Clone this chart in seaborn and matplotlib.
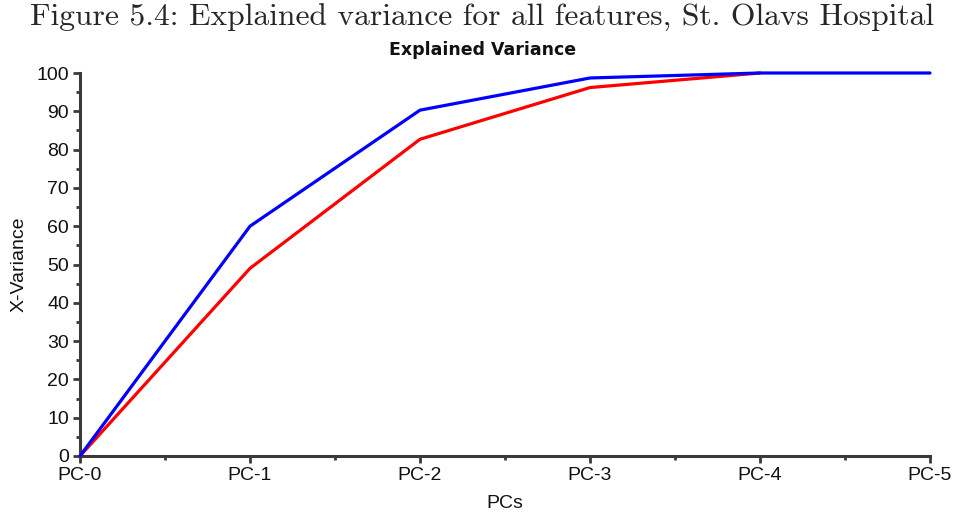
import matplotlib
matplotlib.use("Agg")
import matplotlib.pyplot as plt
import seaborn as sns
import pandas as pd
import numpy as np
from matplotlib.ticker import MultipleLocator

pcs = ["PC-0", "PC-1", "PC-2", "PC-3", "PC-4", "PC-5"]
blue_vals = [0, 60.0, 90.3, 98.7, 100, 100]
red_vals = [0, 49.0, 82.7, 96.2, 100]

rows = []
for i, v in enumerate(red_vals):
    rows.append({"pc": i, "var": v, "series": "red"})
for i, v in enumerate(blue_vals):
    rows.append({"pc": i, "var": v, "series": "blue"})
df = pd.DataFrame(rows)

sns.set_style("white")
plt.rcParams['font.family'] = ['Liberation Sans', 'DejaVu Sans']

fig = plt.figure(figsize=(9.54, 5.12), dpi=100)
ax = fig.add_axes([80/954, 1-456/512, 850/954, 383/512])

sns.lineplot(data=df, x="pc", y="var", hue="series", palette={"red": "#ff0000", "blue": "#0000ff"},
             hue_order=["red", "blue"], linewidth=2.3, legend=False, ax=ax, clip_on=False)

ax.set_xlim(0, 5)
ax.set_ylim(0, 100)
ax.set_xticks(range(len(pcs)))
ax.set_xticklabels(pcs)
ax.xaxis.set_minor_locator(MultipleLocator(0.5))
ax.yaxis.set_major_locator(MultipleLocator(10))
ax.yaxis.set_minor_locator(MultipleLocator(5))

for s in ["top", "right"]:
    ax.spines[s].set_visible(False)
for s in ["left", "bottom"]:
    ax.spines[s].set_color("#3a3a3a")
    ax.spines[s].set_linewidth(2.2)
    ax.spines[s].set_zorder(1)

ax.tick_params(axis="both", which="major", direction="out", length=5, width=2, color="#3a3a3a",
               labelsize=14, labelcolor="#111111", bottom=True, left=True, pad=3)
ax.tick_params(axis="both", which="minor", direction="out", length=3, width=2, color="#3a3a3a",
               bottom=True, left=True)

ax.set_xlabel("PCs", fontsize=14, labelpad=8, color="#111111")
ax.set_ylabel("X-Variance", fontsize=14, labelpad=6, color="#111111")

fig.text(483/954, 1-50/512, "Explained Variance", ha="center", va="center",
         fontsize=12.5, fontweight="bold", family=["DejaVu Sans"], color="#111111")

fig.text(482/954, 1-18/512, "Figure 5.4: Explained variance for all features, St. Olavs Hospital",
         ha="center", va="center", fontsize=22.7, family=["cmr10", "DejaVu Serif"])

fig.savefig("out.png", dpi=100)
